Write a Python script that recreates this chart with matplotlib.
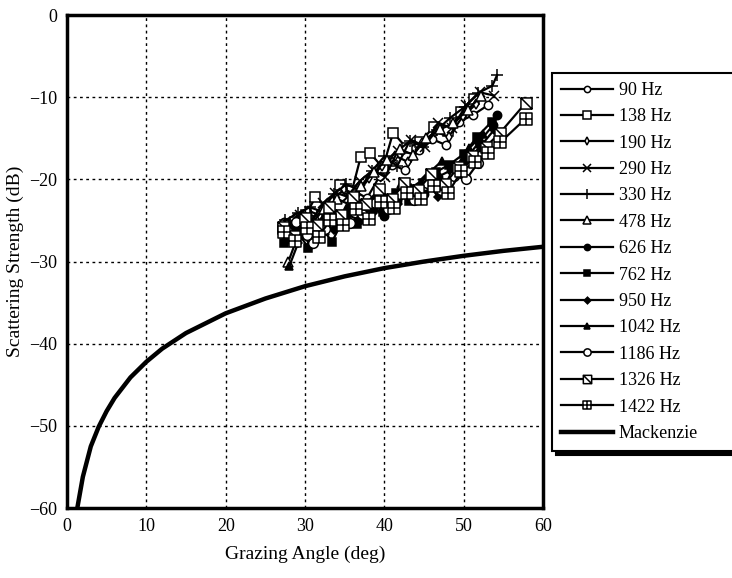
import matplotlib.pyplot as plt
from matplotlib.path import Path

plt.rcParams['font.family'] = ['Liberation Serif', 'DejaVu Serif']

# grazing angle (deg) / scattering strength (dB)
a90 = [27.3, 28.8, 30.2, 31.6, 33.0, 34.6, 36.2, 37.8, 39.4, 41.0, 42.6, 44.3, 46.0, 47.7, 49.4, 51.1, 53.0]
s90 = [-25.2, -24.6, -24.0, -24.8, -23.1, -22.0, -21.4, -22.3, -19.6, -18.2, -18.9, -16.4, -15.1, -15.8, -13.0, -12.2, -11.0]

a138 = [27.2, 28.7, 30.1, 31.3, 32.8, 34.4, 35.9, 37.0, 38.2, 39.8, 41.1, 42.8, 44.5, 46.2, 48.0, 49.7, 51.3]
s138 = [-26.0, -25.2, -24.3, -22.2, -23.5, -20.7, -21.4, -17.3, -16.8, -18.6, -14.3, -16.2, -15.5, -13.6, -14.1, -11.8, -10.2]

a190 = [27.6, 29.0, 30.4, 31.9, 33.4, 34.9, 36.5, 38.1, 39.7, 41.3, 43.0, 44.7, 46.4, 48.1, 49.9, 51.6]
s190 = [-25.8, -24.9, -23.8, -24.4, -22.6, -21.2, -21.9, -19.8, -18.4, -17.1, -17.9, -15.6, -14.2, -14.8, -12.3, -10.8]

a290 = [27.8, 29.3, 30.8, 32.3, 33.8, 35.3, 36.9, 38.5, 40.1, 41.7, 43.4, 45.1, 46.8, 48.5, 50.3, 52.0, 53.8]
s290 = [-25.5, -24.3, -25.0, -22.9, -21.6, -22.1, -20.2, -18.9, -19.7, -16.5, -15.2, -16.0, -13.1, -13.8, -11.0, -9.4, -9.8]

a330 = [27.5, 29.1, 30.6, 32.1, 33.6, 35.2, 36.8, 38.4, 40.0, 41.6, 43.2, 44.9, 46.6, 48.3, 50.1, 51.8, 53.6, 54.2]
s330 = [-25.0, -24.1, -23.4, -23.9, -21.8, -20.6, -21.3, -19.0, -17.2, -18.4, -15.3, -16.1, -14.0, -12.5, -11.2, -9.5, -8.6, -7.3]

a478 = [27.9, 29.4, 30.9, 32.4, 34.0, 35.5, 37.1, 38.7, 40.3, 41.9, 43.6, 45.3, 47.0, 48.7, 50.5, 52.2]
s478 = [-30.0, -26.1, -25.3, -23.6, -22.4, -23.0, -20.8, -19.1, -17.6, -16.3, -17.0, -15.0, -13.9, -13.2, -11.5, -9.9]

a626 = [27.7, 29.2, 30.7, 32.2, 33.7, 35.2, 36.8, 38.4, 40.0, 41.6, 43.3, 45.0, 46.7, 48.4, 50.2, 51.9, 53.7, 54.2]
s626 = [-27.3, -26.4, -27.9, -25.8, -25.2, -24.3, -24.9, -23.5, -24.4, -22.6, -21.2, -21.8, -19.7, -18.9, -17.6, -15.5, -13.4, -12.2]

a762 = [27.4, 28.9, 30.4, 31.9, 33.4, 35.0, 36.6, 38.2, 39.8, 41.4, 43.1, 44.8, 46.5, 48.2, 50.0, 51.7, 53.5]
s762 = [-27.8, -26.2, -28.3, -25.6, -27.6, -24.5, -25.4, -23.4, -24.0, -21.7, -22.6, -20.4, -19.1, -18.2, -16.9, -14.8, -13.0]

a950 = [27.6, 29.1, 30.6, 32.1, 33.7, 35.3, 36.9, 38.5, 40.1, 41.7, 43.4, 45.1, 46.8, 48.5, 50.3, 52.0, 53.8]
s950 = [-26.9, -27.7, -26.0, -25.1, -26.2, -24.0, -23.2, -24.1, -22.3, -23.0, -21.0, -19.9, -22.2, -19.1, -17.8, -16.1, -14.0]

a1042 = [28.0, 29.5, 31.0, 32.5, 34.1, 35.7, 37.3, 38.9, 40.5, 42.1, 43.8, 45.5, 47.2, 48.9, 50.7, 52.4]
s1042 = [-30.6, -26.8, -25.5, -26.3, -24.8, -23.3, -24.1, -22.0, -23.1, -20.6, -21.5, -19.3, -17.8, -18.6, -16.2, -14.5]

a1186 = [27.3, 28.8, 30.3, 31.0, 32.5, 34.0, 35.6, 37.2, 38.8, 40.4, 42.0, 43.7, 45.4, 47.1, 48.8, 50.3, 51.8]
s1186 = [-26.5, -25.2, -26.8, -27.7, -26.0, -24.6, -25.3, -24.2, -22.9, -23.6, -21.8, -22.5, -20.4, -21.3, -19.6, -20.0, -18.0]

a1326 = [27.2, 28.6, 30.0, 31.5, 33.0, 34.5, 36.1, 37.7, 39.3, 40.9, 42.5, 44.2, 45.9, 47.6, 49.3, 51.0, 52.8, 54.6, 57.8]
s1326 = [-25.8, -26.9, -24.7, -25.6, -23.4, -24.3, -22.1, -23.0, -21.2, -22.4, -20.5, -21.3, -19.4, -20.6, -18.5, -17.2, -16.0, -14.3, -10.7]

a1422 = [27.3, 28.7, 30.2, 31.7, 33.2, 34.8, 36.4, 38.0, 39.6, 41.2, 42.9, 44.6, 46.3, 48.0, 49.7, 51.4, 53.1, 54.6, 57.8]
s1422 = [-26.4, -27.5, -25.9, -27.0, -24.9, -25.5, -23.6, -24.8, -22.7, -23.5, -21.6, -22.4, -20.8, -21.7, -19.0, -17.9, -16.8, -15.5, -12.6]

mack_angle = [1.3, 2, 3, 4, 5, 6, 8, 10, 12, 15, 20, 25, 30, 35, 40, 45, 50, 55, 60]
mack_db = [-60, -56.2, -52.5, -50.1, -48.2, -46.6, -44.1, -42.2, -40.6, -38.7, -36.3, -34.5, -33.0,
           -31.8, -30.8, -30.0, -29.3, -28.7, -28.2]

# square with a diagonal, square with a cross
M, L, C = Path.MOVETO, Path.LINETO, Path.CLOSEPOLY
sq_diag = Path([(-1, -1), (1, -1), (1, 1), (-1, 1), (-1, -1), (-1, 1), (1, -1)],
               [M, L, L, L, C, M, L])
sq_plus = Path([(-1, -1), (1, -1), (1, 1), (-1, 1), (-1, -1), (0, -1), (0, 1), (-1, 0), (1, 0)],
               [M, L, L, L, C, M, L, M, L])

series = [
    (a90, s90, '90 Hz', 'o', 'white', 6),
    (a138, s138, '138 Hz', 's', 'white', 7),
    (a190, s190, '190 Hz', 'd', 'white', 5),
    (a290, s290, '290 Hz', 'x', 'black', 7),
    (a330, s330, '330 Hz', '+', 'black', 9),
    (a478, s478, '478 Hz', '^', 'white', 7),
    (a626, s626, '626 Hz', 'o', 'black', 6),
    (a762, s762, '762 Hz', 's', 'black', 6),
    (a950, s950, '950 Hz', 'D', 'black', 4.5),
    (a1042, s1042, '1042 Hz', '^', 'black', 6),
    (a1186, s1186, '1186 Hz', 'o', 'white', 7),
    (a1326, s1326, '1326 Hz', sq_diag, 'white', 8),
    (a1422, s1422, '1422 Hz', sq_plus, 'white', 8),
]

fig = plt.figure(figsize=(7.32, 5.78), dpi=100)
ax = fig.add_axes([0.0915, 0.121, 0.6505, 0.853])

for a, s, lab, mk, fc, ms in series:
    ax.plot(a, s, color='black', lw=1.6, marker=mk, markersize=ms,
            markerfacecolor=fc, markeredgecolor='black', markeredgewidth=1.1, label=lab)
ax.plot(mack_angle, mack_db, color='black', lw=3.2, label='Mackenzie')

ax.set_xlim(0, 60)
ax.set_ylim(-60, 0)
ax.set_xticks(range(0, 61, 10))
ax.set_yticks(range(-60, 1, 10))
ax.grid(True, color='black', linestyle=(0, (2, 2.5)), lw=1)
ax.tick_params(length=0, labelsize=13, pad=7)
for sp in ax.spines.values():
    sp.set_linewidth(2.5)
ax.set_xlabel('Grazing Angle (deg)', fontsize=14, labelpad=8)
ax.set_ylabel('Scattering Strength (dB)', fontsize=14, labelpad=4)

fig.legend(loc='upper left', bbox_to_anchor=(0.754, 0.0, 0.26, 0.874), mode='expand',
           fontsize=13, handlelength=2.9, handletextpad=0.3, labelspacing=0.52,
           markerscale=0.75, frameon=True, fancybox=False,
           edgecolor='black', framealpha=1, borderaxespad=0, borderpad=0.5,
           shadow={'ox': 3, 'oy': -3, 'color': 'black', 'alpha': 1})
fig.legends[0].get_frame().set_linewidth(1.5)

fig.savefig('out.png', dpi=100)
